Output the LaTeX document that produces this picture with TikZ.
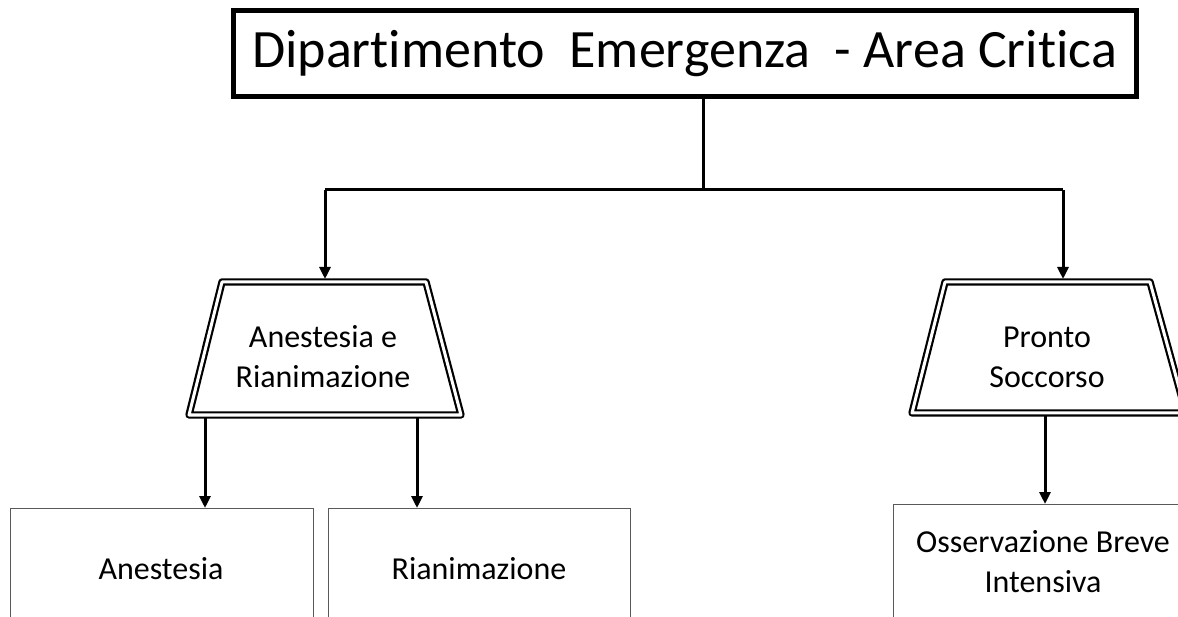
\documentclass[tikz,border=0pt]{standalone}
\usepackage{fontspec}
\setmainfont[Ligatures={NoCommon}]{Carlito}
\usetikzlibrary{arrows.meta}
\begin{document}
\begin{tikzpicture}[x=1pt,y=-1pt,
  conn/.style={line width=3pt,-{Triangle[width=11pt,length=12pt]}},
  plainconn/.style={line width=3pt},
  trap/.style={draw,line width=2.2pt,double,double distance=3pt,line join=round},
  leaf/.style={draw=gray!70!black,line width=0.8pt},
  lbl/.style={font=\fontsize{32}{40}\selectfont,align=center,inner sep=0pt}]
\useasboundingbox (0,0) rectangle (1178,617);
\clip (0,0) rectangle (1178,617);
% title
\node[draw,line width=5pt,minimum width=903pt,minimum height=86pt,inner sep=0pt,
  font=\fontsize{54}{60}\selectfont] (top) at (684.5,53.5) {Dipartimento~~Emergenza~~- Area Critica};
% junction
\coordinate (j) at (703,190);
\coordinate (jl) at (325,190);
\coordinate (jr) at (1063,190);
% trapezoids
\draw[trap] (222,282) -- (426,282) -- (461,415) -- (189,415) -- cycle;
\draw[trap] (945,282) -- (1150,282) -- (1186,413) -- (912,413) -- cycle;
\node[lbl] (ar) at (323,357) {Anestesia e\\Rianimazione};
\node[lbl] (ps) at (1047,357) {Pronto\\Soccorso};
\coordinate (arTop) at (325,279);
\coordinate (psTop) at (1063,279);
\coordinate (arB1) at (205,417);
\coordinate (arB2) at (417,417);
\coordinate (psB) at (1045,415);
% leaf boxes
\draw[leaf] (10,700) |- (313,508) -- (313,700);
\draw[leaf] (328,700) |- (630,508) -- (630,700);
\draw[leaf] (893,700) |- (1200,504);
\node[lbl] (an) at (161,569) {Anestesia};
\node[lbl] (ri) at (479,569) {Rianimazione};
\node[lbl] (obi) at (1043,562) {Osservazione Breve\\Intensiva};
\coordinate (anTop) at (205,508);
\coordinate (riTop) at (417,508);
\coordinate (obiTop) at (1045,504);
% connectors
\draw[plainconn] (top.south -| j) -- (j);
\draw[plainconn] (jl) -- (jr);
\draw[conn] (jl) -- (arTop);
\draw[conn] (jr) -- (psTop);
\draw[conn] (arB1) -- (anTop);
\draw[conn] (arB2) -- (riTop);
\draw[conn] (psB) -- (obiTop);
\end{tikzpicture}
\end{document}
